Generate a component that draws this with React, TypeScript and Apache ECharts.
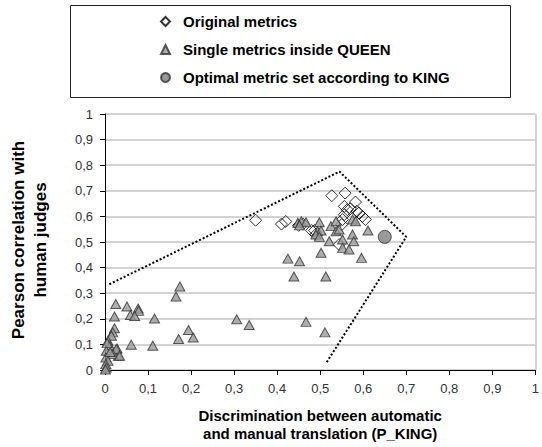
import React, { useEffect, useRef } from "react";
import * as echarts from "echarts";

const FONT = "Liberation Sans";

const seriesNames = [
  "Original metrics",
  "Single metrics inside QUEEN",
  "Optimal metric set according to KING",
];

const originalMetrics: number[][] = [
  [0.35, 0.585], [0.41, 0.57], [0.42, 0.58], [0.45, 0.565], [0.46, 0.57],
  [0.48, 0.545], [0.49, 0.53], [0.487, 0.545], [0.527, 0.681], [0.558, 0.691],
  [0.556, 0.639], [0.582, 0.656], [0.563, 0.626], [0.556, 0.607], [0.552, 0.588],
  [0.59, 0.613], [0.598, 0.6], [0.605, 0.588], [0.55, 0.568], [0.544, 0.49],
  [0.57, 0.63], [0.585, 0.62],
];

const queenMetrics: number[][] = [
  [0.448, 0.575], [0.456, 0.581], [0.467, 0.577], [0.452, 0.565], [0.498, 0.577],
  [0.494, 0.542], [0.502, 0.545], [0.49, 0.529], [0.498, 0.52], [0.525, 0.562],
  [0.537, 0.581], [0.521, 0.503], [0.537, 0.542], [0.544, 0.549], [0.552, 0.51],
  [0.552, 0.477], [0.575, 0.588], [0.582, 0.581], [0.575, 0.529], [0.578, 0.503],
  [0.611, 0.545], [0.502, 0.458], [0.567, 0.471], [0.596, 0.438],
  [0.425, 0.435], [0.452, 0.425], [0.439, 0.365], [0.513, 0.365], [0.467, 0.188],
  [0.511, 0.147],
  [0.174, 0.326], [0.165, 0.287], [0.306, 0.198], [0.335, 0.176], [0.194, 0.156],
  [0.205, 0.127], [0.171, 0.121], [0.115, 0.201], [0.111, 0.095],
  [0.025, 0.258], [0.051, 0.248], [0.077, 0.24], [0.078, 0.231], [0.059, 0.215],
  [0.069, 0.211], [0.022, 0.209], [0.022, 0.163], [0.018, 0.147], [0.015, 0.134],
  [0.061, 0.099], [0.028, 0.084], [0.031, 0.056], [0.007, 0.114], [0.011, 0.095],
  [0.026, 0.082], [0.003, 0.075], [0.018, 0.062], [0.034, 0.056], [0.002, 0.049],
  [0.007, 0.036], [0.002, 0.023], [0.003, 0.01], [0.001, 0.002], [0.012, 0.07],
  [0.005, 0.105],
];

const optimalSet: number[][] = [[0.65, 0.52]];

const hullLine: number[][] = [
  [0.01, 0.335], [0.545, 0.775], [0.7, 0.52], [0.515, 0.03],
];

const fmt = (v: number) => String(Math.round(v * 10) / 10).replace(".", ",");

export default function App() {
  const ref = useRef<HTMLDivElement>(null);
  useEffect(() => {
    document.body.style.margin = "0";
    const chart = echarts.init(ref.current!, null, { renderer: "svg" });
    chart.setOption({
      animation: false,
      textStyle: { fontFamily: FONT },
      grid: { left: 105, right: 2, top: 114, bottom: 76 },
      legend: {
        data: seriesNames,
        orient: "vertical",
        left: 160,
        top: 14,
        padding: 0,
        itemGap: 13,
        itemWidth: 9,
        itemHeight: 9,
        textStyle: {
          fontFamily: FONT,
          fontWeight: "bold",
          fontSize: 15,
          color: "#000",
          padding: [0, 0, 0, 8],
        },
      },
      graphic: [
        {
          type: "rect",
          shape: { x: 70.5, y: 5.5, width: 440, height: 92 },
          style: { fill: "none", stroke: "#222", lineWidth: 1 },
        },
        {
          type: "text",
          x: 29,
          y: 240,
          rotation: Math.PI / 2,
          style: {
            text: "Pearson correlation with\nhuman judges",
            font: `bold 17px ${FONT}`,
            fill: "#000",
            align: "center",
            verticalAlign: "middle",
            lineHeight: 22,
          },
        },
      ],
      xAxis: {
        type: "value",
        min: 0,
        max: 1,
        interval: 0.1,
        name: "Discrimination between automatic\nand manual translation (P_KING)",
        nameLocation: "middle",
        nameGap: 36,
        nameTextStyle: {
          fontFamily: FONT,
          fontWeight: "bold",
          fontSize: 15,
          color: "#000",
          lineHeight: 18,
          verticalAlign: "top",
        },
        axisLine: { lineStyle: { color: "#000", width: 1 } },
        axisTick: { show: true, length: 5, lineStyle: { color: "#000" } },
        axisLabel: { formatter: fmt, fontSize: 13, color: "#333", margin: 12 },
        splitLine: { show: false },
      },
      yAxis: {
        type: "value",
        min: 0,
        max: 1,
        interval: 0.1,
        axisLine: { show: true, lineStyle: { color: "#000", width: 1 } },
        axisTick: { show: true, length: 5, lineStyle: { color: "#000" } },
        axisLabel: { formatter: fmt, fontSize: 13, color: "#333", margin: 12 },
        splitLine: { show: true, lineStyle: { color: "#c4c4c4", width: 1.5 } },
      },
      series: [
        {
          name: seriesNames[0],
          type: "scatter",
          symbol: "diamond",
          symbolSize: 12,
          data: originalMetrics,
          itemStyle: { color: "rgba(255,255,255,0)", borderColor: "#000", borderWidth: 1 },
          z: 3,
        },
        {
          name: seriesNames[1],
          type: "scatter",
          symbol: "triangle",
          symbolSize: [10, 9],
          data: queenMetrics,
          itemStyle: { color: "#999999", borderColor: "#333", borderWidth: 1 },
          z: 4,
        },
        {
          name: seriesNames[2],
          type: "scatter",
          symbol: "circle",
          symbolSize: 13,
          data: optimalSet,
          itemStyle: { color: "#808080", borderColor: "#333", borderWidth: 1 },
          z: 5,
        },
        {
          name: "hull",
          type: "line",
          data: hullLine,
          symbol: "none",
          silent: true,
          lineStyle: { color: "#000", width: 2, type: [2, 2] },
          z: 2,
          markLine: {
            silent: true,
            symbol: "none",
            label: { show: false },
            lineStyle: { color: "#c4c4c4", width: 1.5, type: "solid" },
            data: [{ xAxis: 1 }],
          },
        },
      ],
    });
    return () => chart.dispose();
  }, []);
  return <div ref={ref} style={{ width: 542, height: 447 }} />;
}
